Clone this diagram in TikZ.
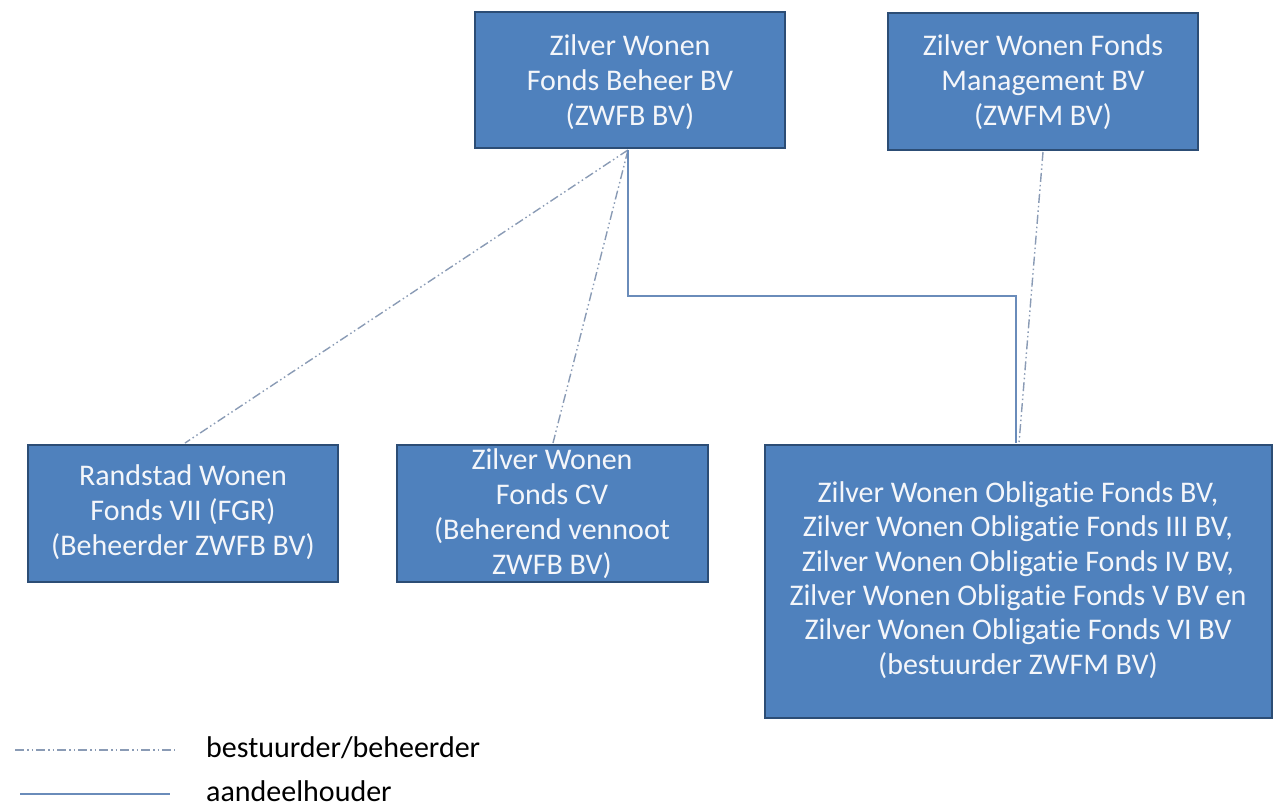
\documentclass[tikz,border=0pt]{standalone}
\usepackage{fontspec}
\setmainfont{Carlito}[Ligatures=NoCommon]
\definecolor{boxfill}{HTML}{4F81BD}
\definecolor{boxedge}{HTML}{2C4D75}
\definecolor{dashcol}{HTML}{8A9BB5}
\definecolor{solidcol}{HTML}{6A8CBA}
\definecolor{txtcol}{HTML}{F4F6FA}
\begin{document}
\begin{tikzpicture}[x=1pt,y=-1pt,
  orgbox/.style={draw=boxedge,line width=2.8pt,fill=boxfill},
  boxtext/.style={text=txtcol,align=center,inner sep=0pt,font=\fontsize{30}{35}\selectfont},
  ddline/.style={draw=dashcol,line width=1.4pt,dash pattern=on 9pt off 3pt on 1.5pt off 3pt on 1.5pt off 3pt},
  solline/.style={draw=solidcol,line width=1.4pt},
  legtext/.style={anchor=west,inner sep=0pt,font=\fontsize{30}{35}\selectfont,text=black}]
\useasboundingbox (0,0) rectangle (1277,809);
\path[orgbox] (475,12) rectangle (785,148);
\node[boxtext] (zwfb) at (630,82) {Zilver Wonen\\Fonds Beheer BV\\(ZWFB BV)};
\path[orgbox] (888,13) rectangle (1198,150);
\node[boxtext] (zwfm) at (1043,82) {Zilver Wonen Fonds\\Management BV\\(ZWFM BV)};
\path[orgbox] (28,445) rectangle (338,582);
\node[boxtext] (rwf) at (183,512) {Randstad Wonen\\Fonds VII (FGR)\\(Beheerder ZWFB BV)};
\path[orgbox] (397,445) rectangle (708,582);
\node[boxtext] (zwcv) at (552,514) {Zilver Wonen\\Fonds CV\\(Beherend vennoot\\ZWFB BV)};
\path[orgbox] (765,445) rectangle (1272,718);
\node[boxtext,font=\fontsize{30}{34.4}\selectfont] (zwof) at (1018,580) {Zilver Wonen Obligatie Fonds BV,\\Zilver Wonen Obligatie Fonds III BV,\\Zilver Wonen Obligatie Fonds IV BV,\\Zilver Wonen Obligatie Fonds V BV en\\Zilver Wonen Obligatie Fonds VI BV\\(bestuurder ZWFM BV)};
\coordinate (a) at (628,150);
\coordinate (b) at (1043,152);
\coordinate (ct) at (185,443);
\coordinate (dt) at (553,443);
\coordinate (et) at (1019,443);
\coordinate (es) at (1016,443);
\draw[ddline] (a) -- (ct);
\draw[ddline] (a) -- (dt);
\draw[ddline] (b) -- (et);
\draw[solline] (a) -- (628,296) -- (1016,296) -- (es);
\coordinate (l1a) at (15,750);
\coordinate (l1b) at (175,750);
\coordinate (l2a) at (20,794);
\coordinate (l2b) at (170,794);
\draw[ddline] (l1a) -- (l1b);
\draw[solline] (l2a) -- (l2b);
\node[legtext] (leg1) at (206,748) {bestuurder/beheerder};
\node[legtext] (leg2) at (206,791) {aandeelhouder};
\end{tikzpicture}
\end{document}
